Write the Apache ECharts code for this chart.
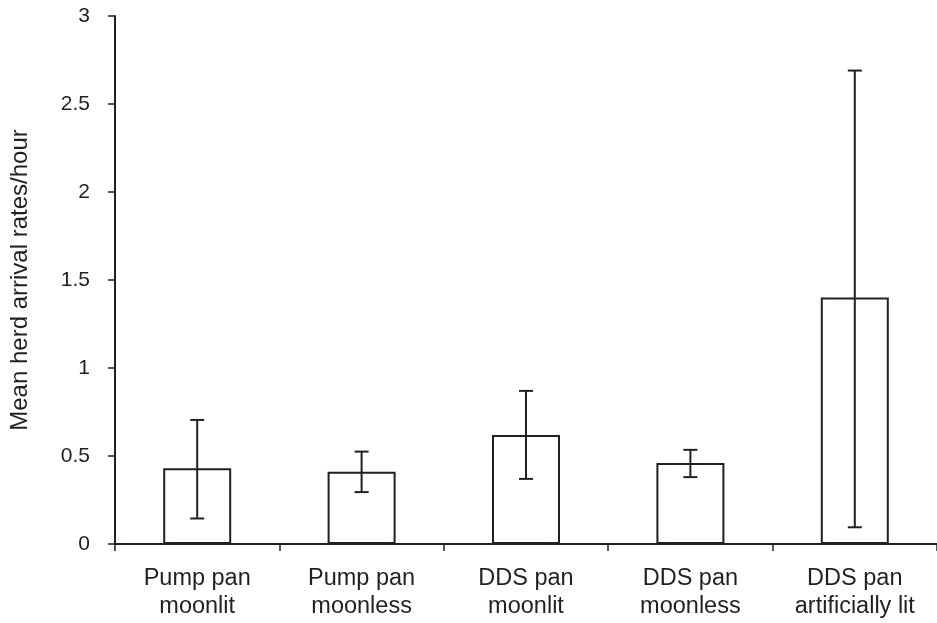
<!DOCTYPE html>
<html>
<head>
<meta charset="utf-8">
<script src="https://cdn.jsdelivr.net/npm/echarts@6/dist/echarts.min.js"></script>
<style>
html,body{margin:0;padding:0;background:#fff;}
#chart{width:937px;height:623px;}
</style>
</head>
<body>
<div id="chart"></div>
<script>
const categories = ['Pump pan\nmoonlit', 'Pump pan\nmoonless', 'DDS pan\nmoonlit', 'DDS pan\nmoonless', 'DDS pan\nartificially lit'];
const means = [0.43, 0.41, 0.62, 0.46, 1.40];
const errUpper = [0.705, 0.525, 0.87, 0.535, 2.69];
const errLower = [0.145, 0.295, 0.37, 0.38, 0.095];
const yTicks = [0, 0.5, 1, 1.5, 2, 2.5, 3];

const errData = categories.map((c, i) => [i, errLower[i], errUpper[i]]);
const ink = '#231f20';
const font = '"Liberation Sans", Arial, sans-serif';

const chart = echarts.init(document.getElementById('chart'));
chart.setOption({
  backgroundColor: '#fff',
  animation: false,
  grid: { left: 108, right: -5, top: 16, bottom: 79, containLabel: false },
  xAxis: {
    type: 'category',
    data: categories,
    boundaryGap: true,
    axisLine: { lineStyle: { color: ink, width: 2 } },
    axisTick: { show: true, alignWithLabel: false, length: 7, lineStyle: { color: ink, width: 1.5 } },
    axisLabel: { color: ink, fontFamily: font, fontSize: 23.5, lineHeight: 28, margin: 21, interval: 0 }
  },
  yAxis: {
    type: 'value',
    min: yTicks[0],
    max: yTicks[yTicks.length - 1],
    interval: 0.5,
    name: 'Mean herd arrival rates/hour',
    nameLocation: 'middle',
    nameGap: 83,
    nameTextStyle: { color: ink, fontFamily: font, fontSize: 24 },
    splitLine: { show: false },
    axisLine: { show: true, lineStyle: { color: ink, width: 2 } },
    axisTick: { show: true, length: 7, lineStyle: { color: ink, width: 1.5 } },
    axisLabel: { color: ink, fontFamily: font, fontSize: 21, margin: 25 }
  },
  series: [
    {
      type: 'bar',
      data: means,
      barWidth: 68,
      itemStyle: { color: '#fff', borderColor: ink, borderWidth: 2 },
      z: 2
    },
    {
      type: 'custom',
      data: errData,
      z: 3,
      renderItem: function (params, api) {
        const x = api.value(0);
        const lo = api.coord([x, api.value(1)]);
        const hi = api.coord([x, api.value(2)]);
        const hw = 7;
        const style = { stroke: ink, lineWidth: 2, fill: null };
        return {
          type: 'group',
          children: [
            { type: 'line', shape: { x1: hi[0], y1: hi[1], x2: lo[0], y2: lo[1] }, style: style },
            { type: 'line', shape: { x1: hi[0] - hw, y1: hi[1], x2: hi[0] + hw, y2: hi[1] }, style: style },
            { type: 'line', shape: { x1: lo[0] - hw, y1: lo[1], x2: lo[0] + hw, y2: lo[1] }, style: style }
          ]
        };
      }
    }
  ]
});
</script>
</body>
</html>
